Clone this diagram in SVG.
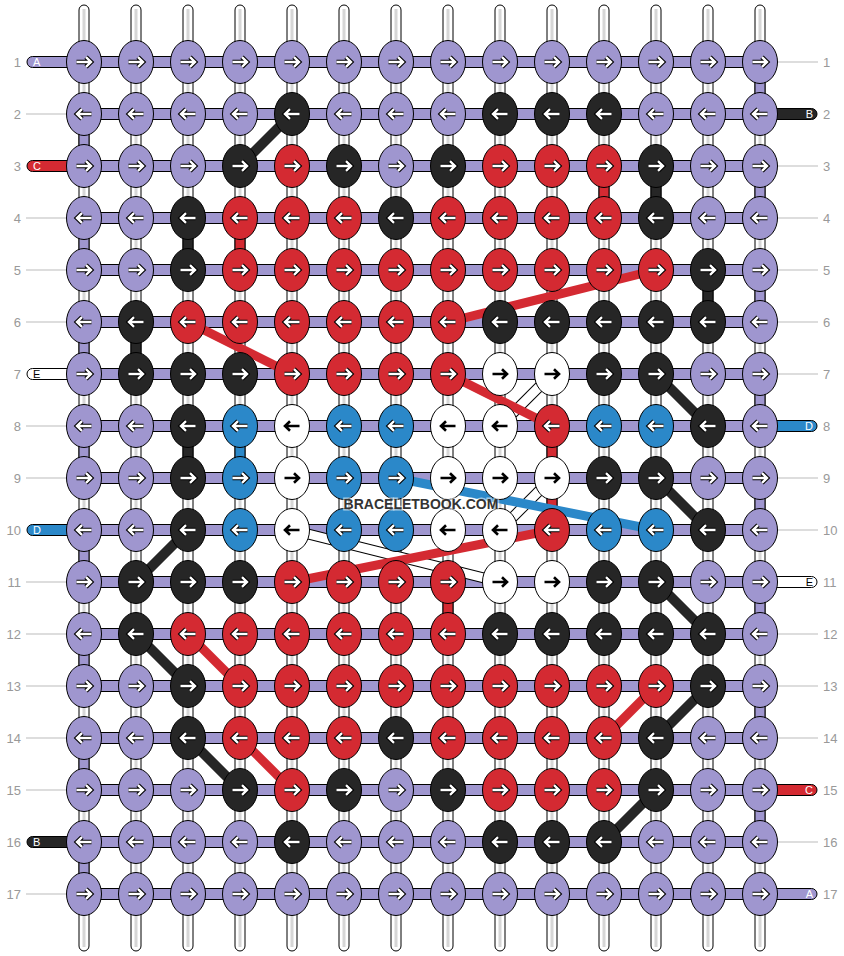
<svg xmlns="http://www.w3.org/2000/svg" xmlns:xlink="http://www.w3.org/1999/xlink" width="844" height="956" viewBox="0 0 844 956">
<style>
.tube{fill:#fff;stroke:#000;stroke-width:1}
.tc{fill:#d6d6d6}
.bar{fill:#9f96cf;stroke:#000;stroke-width:1}
.gL{fill:#9f96cf;stroke:#000;stroke-width:1}
.gK{fill:#262626;stroke:#000;stroke-width:1}
.gR{fill:#d42a32;stroke:#000;stroke-width:1}
.gB{fill:#2b88c9;stroke:#000;stroke-width:1}
.eL{fill:#9f96cf;stroke:#000;stroke-width:1}
.eK{fill:#262626;stroke:#000;stroke-width:1}
.eR{fill:#d42a32;stroke:#000;stroke-width:1}
.eB{fill:#2b88c9;stroke:#000;stroke-width:1}
.eW{fill:#fff;stroke:#000;stroke-width:1}
.ao{fill:none;stroke:#000;stroke-width:4.6}
.ai{fill:none;stroke:#fff;stroke-width:2.4}
.ab{fill:none;stroke:#000;stroke-width:2.6}
.dK{stroke:#262626;stroke-width:10;fill:none}
.dR{stroke:#d42a32;stroke-width:9;fill:none}
.dB{stroke:#2b88c9;stroke-width:9;fill:none}
.dWo{stroke:#000;stroke-width:11;fill:none}
.dWi{stroke:#fff;stroke-width:9;fill:none}
.num{font-family:"Liberation Sans",Arial,sans-serif;font-size:13px;fill:#999}
.lead{stroke:#bbb;stroke-width:1}
.pl{stroke:#000;stroke-width:1}
.lt{font-family:"Liberation Sans",Arial,sans-serif;font-size:11px;fill:#fff}
.ltd{font-family:"Liberation Sans",Arial,sans-serif;font-size:11px;fill:#000}
.wm{font-family:"Liberation Sans",Arial,sans-serif;font-size:14px;font-weight:bold;fill:#333;stroke:#fff;stroke-opacity:0.55;stroke-width:3;paint-order:stroke;text-anchor:middle}
</style>
<defs>
<path id="pr" d="M-7.5 0H6.5M2 -4.8L7 0L2 4.8"/>
<path id="pl" d="M7.5 0H-6.5M-2 -4.8L-7 0L-2 4.8"/>
<g id="aR"><use href="#pr" class="ao"/><use href="#pr" class="ai"/></g>
<g id="aL"><use href="#pl" class="ao"/><use href="#pl" class="ai"/></g>
<g id="Lr"><ellipse rx="17.5" ry="21.5" class="eL"/><use href="#aR"/></g>
<g id="Ll"><ellipse rx="17.5" ry="21.5" class="eL"/><use href="#aL"/></g>
<g id="Kr"><ellipse rx="17.5" ry="21.5" class="eK"/><use href="#aR"/></g>
<g id="Kl"><ellipse rx="17.5" ry="21.5" class="eK"/><use href="#aL"/></g>
<g id="Rr"><ellipse rx="17.5" ry="21.5" class="eR"/><use href="#aR"/></g>
<g id="Rl"><ellipse rx="17.5" ry="21.5" class="eR"/><use href="#aL"/></g>
<g id="Br"><ellipse rx="17.5" ry="21.5" class="eB"/><use href="#aR"/></g>
<g id="Bl"><ellipse rx="17.5" ry="21.5" class="eB"/><use href="#aL"/></g>
<g id="Wr"><ellipse rx="17.5" ry="21.5" class="eW"/><use href="#pr" class="ab"/></g>
<g id="Wl"><ellipse rx="17.5" ry="21.5" class="eW"/><use href="#pl" class="ab"/></g>
</defs>
<rect width="844" height="956" fill="#fff"/>

<g id="tubes">
<rect class="tube" x="79" y="5" width="10" height="946" rx="5"/><rect class="tc" x="82.5" y="9" width="3" height="938"/>
<rect class="tube" x="131" y="5" width="10" height="946" rx="5"/><rect class="tc" x="134.5" y="9" width="3" height="938"/>
<rect class="tube" x="183" y="5" width="10" height="946" rx="5"/><rect class="tc" x="186.5" y="9" width="3" height="938"/>
<rect class="tube" x="235" y="5" width="10" height="946" rx="5"/><rect class="tc" x="238.5" y="9" width="3" height="938"/>
<rect class="tube" x="287" y="5" width="10" height="946" rx="5"/><rect class="tc" x="290.5" y="9" width="3" height="938"/>
<rect class="tube" x="339" y="5" width="10" height="946" rx="5"/><rect class="tc" x="342.5" y="9" width="3" height="938"/>
<rect class="tube" x="391" y="5" width="10" height="946" rx="5"/><rect class="tc" x="394.5" y="9" width="3" height="938"/>
<rect class="tube" x="443" y="5" width="10" height="946" rx="5"/><rect class="tc" x="446.5" y="9" width="3" height="938"/>
<rect class="tube" x="495" y="5" width="10" height="946" rx="5"/><rect class="tc" x="498.5" y="9" width="3" height="938"/>
<rect class="tube" x="547" y="5" width="10" height="946" rx="5"/><rect class="tc" x="550.5" y="9" width="3" height="938"/>
<rect class="tube" x="599" y="5" width="10" height="946" rx="5"/><rect class="tc" x="602.5" y="9" width="3" height="938"/>
<rect class="tube" x="651" y="5" width="10" height="946" rx="5"/><rect class="tc" x="654.5" y="9" width="3" height="938"/>
<rect class="tube" x="703" y="5" width="10" height="946" rx="5"/><rect class="tc" x="706.5" y="9" width="3" height="938"/>
<rect class="tube" x="755" y="5" width="10" height="946" rx="5"/><rect class="tc" x="758.5" y="9" width="3" height="938"/>
</g>

<g id="labels">
<text class="num" x="21" y="67" text-anchor="end">1</text>
<text class="num" x="21" y="119" text-anchor="end">2</text>
<text class="num" x="21" y="171" text-anchor="end">3</text>
<text class="num" x="21" y="223" text-anchor="end">4</text>
<text class="num" x="21" y="275" text-anchor="end">5</text>
<text class="num" x="21" y="327" text-anchor="end">6</text>
<text class="num" x="21" y="379" text-anchor="end">7</text>
<text class="num" x="21" y="431" text-anchor="end">8</text>
<text class="num" x="21" y="483" text-anchor="end">9</text>
<text class="num" x="21" y="535" text-anchor="end">10</text>
<text class="num" x="21" y="587" text-anchor="end">11</text>
<text class="num" x="21" y="639" text-anchor="end">12</text>
<text class="num" x="21" y="691" text-anchor="end">13</text>
<text class="num" x="21" y="743" text-anchor="end">14</text>
<text class="num" x="21" y="795" text-anchor="end">15</text>
<text class="num" x="21" y="847" text-anchor="end">16</text>
<text class="num" x="21" y="899" text-anchor="end">17</text>
<text class="num" x="823" y="67">1</text>
<text class="num" x="823" y="119">2</text>
<text class="num" x="823" y="171">3</text>
<text class="num" x="823" y="223">4</text>
<text class="num" x="823" y="275">5</text>
<text class="num" x="823" y="327">6</text>
<text class="num" x="823" y="379">7</text>
<text class="num" x="823" y="431">8</text>
<text class="num" x="823" y="483">9</text>
<text class="num" x="823" y="535">10</text>
<text class="num" x="823" y="587">11</text>
<text class="num" x="823" y="639">12</text>
<text class="num" x="823" y="691">13</text>
<text class="num" x="823" y="743">14</text>
<text class="num" x="823" y="795">15</text>
<text class="num" x="823" y="847">16</text>
<text class="num" x="823" y="899">17</text>
<line class="lead" x1="26" y1="114" x2="67" y2="114"/>
<line class="lead" x1="26" y1="218" x2="67" y2="218"/>
<line class="lead" x1="26" y1="270" x2="67" y2="270"/>
<line class="lead" x1="26" y1="322" x2="67" y2="322"/>
<line class="lead" x1="26" y1="426" x2="67" y2="426"/>
<line class="lead" x1="26" y1="478" x2="67" y2="478"/>
<line class="lead" x1="26" y1="582" x2="67" y2="582"/>
<line class="lead" x1="26" y1="634" x2="67" y2="634"/>
<line class="lead" x1="26" y1="686" x2="67" y2="686"/>
<line class="lead" x1="26" y1="738" x2="67" y2="738"/>
<line class="lead" x1="26" y1="790" x2="67" y2="790"/>
<line class="lead" x1="26" y1="894" x2="67" y2="894"/>
<line class="lead" x1="777" y1="62" x2="818" y2="62"/>
<line class="lead" x1="777" y1="166" x2="818" y2="166"/>
<line class="lead" x1="777" y1="218" x2="818" y2="218"/>
<line class="lead" x1="777" y1="270" x2="818" y2="270"/>
<line class="lead" x1="777" y1="322" x2="818" y2="322"/>
<line class="lead" x1="777" y1="374" x2="818" y2="374"/>
<line class="lead" x1="777" y1="478" x2="818" y2="478"/>
<line class="lead" x1="777" y1="530" x2="818" y2="530"/>
<line class="lead" x1="777" y1="634" x2="818" y2="634"/>
<line class="lead" x1="777" y1="686" x2="818" y2="686"/>
<line class="lead" x1="777" y1="738" x2="818" y2="738"/>
<line class="lead" x1="777" y1="842" x2="818" y2="842"/>
</g>

<g id="bars">
<rect class="bar" x="84" y="56.5" width="676" height="11"/>
<rect class="bar" x="84" y="108.5" width="676" height="11"/>
<rect class="bar" x="84" y="160.5" width="676" height="11"/>
<rect class="bar" x="84" y="212.5" width="676" height="11"/>
<rect class="bar" x="84" y="264.5" width="676" height="11"/>
<rect class="bar" x="84" y="316.5" width="676" height="11"/>
<rect class="bar" x="84" y="368.5" width="676" height="11"/>
<rect class="bar" x="84" y="420.5" width="676" height="11"/>
<rect class="bar" x="84" y="472.5" width="676" height="11"/>
<rect class="bar" x="84" y="524.5" width="676" height="11"/>
<rect class="bar" x="84" y="576.5" width="676" height="11"/>
<rect class="bar" x="84" y="628.5" width="676" height="11"/>
<rect class="bar" x="84" y="680.5" width="676" height="11"/>
<rect class="bar" x="84" y="732.5" width="676" height="11"/>
<rect class="bar" x="84" y="784.5" width="676" height="11"/>
<rect class="bar" x="84" y="836.5" width="676" height="11"/>
<rect class="bar" x="84" y="888.5" width="676" height="11"/>
</g>

<g id="ends">
<path class="pl" fill="#9f96cf" d="M72 56.5H32.5A5.5 5.5 0 0 0 32.5 67.5H72Z"/><text class="lt" x="33" y="66">A</text>
<path class="pl" fill="#d42a32" d="M72 160.5H32.5A5.5 5.5 0 0 0 32.5 171.5H72Z"/><text class="lt" x="33" y="170">C</text>
<path class="pl" fill="#fff" d="M72 368.5H32.5A5.5 5.5 0 0 0 32.5 379.5H72Z"/><text class="ltd" x="33" y="378">E</text>
<path class="pl" fill="#2b88c9" d="M72 524.5H32.5A5.5 5.5 0 0 0 32.5 535.5H72Z"/><text class="lt" x="33" y="534">D</text>
<path class="pl" fill="#262626" d="M72 836.5H32.5A5.5 5.5 0 0 0 32.5 847.5H72Z"/><text class="lt" x="33" y="846">B</text>
<path class="pl" fill="#262626" d="M772 108.5H811.5A5.5 5.5 0 0 1 811.5 119.5H772Z"/><text class="lt" x="813" y="118" text-anchor="end">B</text>
<path class="pl" fill="#2b88c9" d="M772 420.5H811.5A5.5 5.5 0 0 1 811.5 431.5H772Z"/><text class="lt" x="813" y="430" text-anchor="end">D</text>
<path class="pl" fill="#fff" d="M772 576.5H811.5A5.5 5.5 0 0 1 811.5 587.5H772Z"/><text class="ltd" x="813" y="586" text-anchor="end">E</text>
<path class="pl" fill="#d42a32" d="M772 784.5H811.5A5.5 5.5 0 0 1 811.5 795.5H772Z"/><text class="lt" x="813" y="794" text-anchor="end">C</text>
<path class="pl" fill="#9f96cf" d="M772 888.5H811.5A5.5 5.5 0 0 1 811.5 899.5H772Z"/><text class="lt" x="813" y="898" text-anchor="end">A</text>
</g>

<g id="connectors">
<rect class="gL" x="755" y="82" width="10" height="12"/>
<rect class="gL" x="79" y="134" width="10" height="12"/>
<rect class="gR" x="599" y="186" width="10" height="12"/>
<rect class="gK" x="651" y="186" width="10" height="12"/>
<rect class="gL" x="755" y="186" width="10" height="12"/>
<rect class="gL" x="79" y="238" width="10" height="12"/>
<rect class="gK" x="183" y="238" width="10" height="12"/>
<rect class="gR" x="235" y="238" width="10" height="12"/>
<rect class="gK" x="703" y="290" width="10" height="12"/>
<rect class="gL" x="755" y="290" width="10" height="12"/>
<rect class="gL" x="79" y="342" width="10" height="12"/>
<rect class="gK" x="131" y="342" width="10" height="12"/>
<rect class="gL" x="755" y="394" width="10" height="12"/>
<rect class="gL" x="79" y="446" width="10" height="12"/>
<rect class="gK" x="183" y="446" width="10" height="12"/>
<rect class="gB" x="235" y="446" width="10" height="12"/>
<rect class="gR" x="547" y="446" width="10" height="12"/>
<rect class="gL" x="755" y="498" width="10" height="12"/>
<rect class="gR" x="547" y="498" width="10" height="12"/>
<rect class="gL" x="79" y="550" width="10" height="12"/>
<rect class="gL" x="755" y="602" width="10" height="12"/>
<rect class="gR" x="443" y="602" width="10" height="12"/>
<rect class="gL" x="79" y="654" width="10" height="12"/>
<rect class="gL" x="755" y="706" width="10" height="12"/>
<rect class="gL" x="79" y="758" width="10" height="12"/>
<rect class="gL" x="755" y="810" width="10" height="12"/>
<rect class="gL" x="79" y="862" width="10" height="12"/>
<line class="dWo" x1="552" y1="374" x2="500" y2="426"/><line class="dWi" x1="552" y1="374" x2="500" y2="426"/>
<line class="dWo" x1="552" y1="478" x2="500" y2="530"/><line class="dWi" x1="552" y1="478" x2="500" y2="530"/>
<line class="dWo" x1="292" y1="530" x2="500" y2="582"/><line class="dWi" x1="292" y1="530" x2="500" y2="582"/>
<line class="dK" x1="292" y1="114" x2="240" y2="166"/>
<line class="dK" x1="656" y1="374" x2="708" y2="426"/>
<line class="dK" x1="656" y1="478" x2="708" y2="530"/>
<line class="dK" x1="188" y1="530" x2="136" y2="582"/>
<line class="dK" x1="656" y1="582" x2="708" y2="634"/>
<line class="dK" x1="136" y1="634" x2="188" y2="686"/>
<line class="dK" x1="708" y1="686" x2="656" y2="738"/>
<line class="dK" x1="188" y1="738" x2="240" y2="790"/>
<line class="dK" x1="656" y1="790" x2="604" y2="842"/>
<line class="dR" x1="656" y1="270" x2="448" y2="322"/>
<line class="dR" x1="188" y1="322" x2="292" y2="374"/>
<line class="dR" x1="448" y1="374" x2="552" y2="426"/>
<line class="dR" x1="552" y1="530" x2="292" y2="582"/>
<line class="dR" x1="188" y1="634" x2="240" y2="686"/>
<line class="dR" x1="656" y1="686" x2="604" y2="738"/>
<line class="dR" x1="240" y1="738" x2="292" y2="790"/>
<line class="dB" x1="396" y1="478" x2="656" y2="530"/>
</g>

<g id="knots">
<g id="k1_1"><use href="#Lr" x="84" y="62"/></g><g id="k1_2"><use href="#Lr" x="136" y="62"/></g><g id="k1_3"><use href="#Lr" x="188" y="62"/></g><g id="k1_4"><use href="#Lr" x="240" y="62"/></g><g id="k1_5"><use href="#Lr" x="292" y="62"/></g><g id="k1_6"><use href="#Lr" x="344" y="62"/></g><g id="k1_7"><use href="#Lr" x="396" y="62"/></g><g id="k1_8"><use href="#Lr" x="448" y="62"/></g><g id="k1_9"><use href="#Lr" x="500" y="62"/></g><g id="k1_10"><use href="#Lr" x="552" y="62"/></g><g id="k1_11"><use href="#Lr" x="604" y="62"/></g><g id="k1_12"><use href="#Lr" x="656" y="62"/></g><g id="k1_13"><use href="#Lr" x="708" y="62"/></g><g id="k1_14"><use href="#Lr" x="760" y="62"/></g>
<g id="k2_1"><use href="#Ll" x="84" y="114"/></g><g id="k2_2"><use href="#Ll" x="136" y="114"/></g><g id="k2_3"><use href="#Ll" x="188" y="114"/></g><g id="k2_4"><use href="#Ll" x="240" y="114"/></g><g id="k2_5"><use href="#Kl" x="292" y="114"/></g><g id="k2_6"><use href="#Ll" x="344" y="114"/></g><g id="k2_7"><use href="#Ll" x="396" y="114"/></g><g id="k2_8"><use href="#Ll" x="448" y="114"/></g><g id="k2_9"><use href="#Kl" x="500" y="114"/></g><g id="k2_10"><use href="#Kl" x="552" y="114"/></g><g id="k2_11"><use href="#Kl" x="604" y="114"/></g><g id="k2_12"><use href="#Ll" x="656" y="114"/></g><g id="k2_13"><use href="#Ll" x="708" y="114"/></g><g id="k2_14"><use href="#Ll" x="760" y="114"/></g>
<g id="k3_1"><use href="#Lr" x="84" y="166"/></g><g id="k3_2"><use href="#Lr" x="136" y="166"/></g><g id="k3_3"><use href="#Lr" x="188" y="166"/></g><g id="k3_4"><use href="#Kr" x="240" y="166"/></g><g id="k3_5"><use href="#Rr" x="292" y="166"/></g><g id="k3_6"><use href="#Kr" x="344" y="166"/></g><g id="k3_7"><use href="#Lr" x="396" y="166"/></g><g id="k3_8"><use href="#Kr" x="448" y="166"/></g><g id="k3_9"><use href="#Rr" x="500" y="166"/></g><g id="k3_10"><use href="#Rr" x="552" y="166"/></g><g id="k3_11"><use href="#Rr" x="604" y="166"/></g><g id="k3_12"><use href="#Kr" x="656" y="166"/></g><g id="k3_13"><use href="#Lr" x="708" y="166"/></g><g id="k3_14"><use href="#Lr" x="760" y="166"/></g>
<g id="k4_1"><use href="#Ll" x="84" y="218"/></g><g id="k4_2"><use href="#Ll" x="136" y="218"/></g><g id="k4_3"><use href="#Kl" x="188" y="218"/></g><g id="k4_4"><use href="#Rl" x="240" y="218"/></g><g id="k4_5"><use href="#Rl" x="292" y="218"/></g><g id="k4_6"><use href="#Rl" x="344" y="218"/></g><g id="k4_7"><use href="#Kl" x="396" y="218"/></g><g id="k4_8"><use href="#Rl" x="448" y="218"/></g><g id="k4_9"><use href="#Rl" x="500" y="218"/></g><g id="k4_10"><use href="#Rl" x="552" y="218"/></g><g id="k4_11"><use href="#Rl" x="604" y="218"/></g><g id="k4_12"><use href="#Kl" x="656" y="218"/></g><g id="k4_13"><use href="#Ll" x="708" y="218"/></g><g id="k4_14"><use href="#Ll" x="760" y="218"/></g>
<g id="k5_1"><use href="#Lr" x="84" y="270"/></g><g id="k5_2"><use href="#Lr" x="136" y="270"/></g><g id="k5_3"><use href="#Kr" x="188" y="270"/></g><g id="k5_4"><use href="#Rr" x="240" y="270"/></g><g id="k5_5"><use href="#Rr" x="292" y="270"/></g><g id="k5_6"><use href="#Rr" x="344" y="270"/></g><g id="k5_7"><use href="#Rr" x="396" y="270"/></g><g id="k5_8"><use href="#Rr" x="448" y="270"/></g><g id="k5_9"><use href="#Rr" x="500" y="270"/></g><g id="k5_10"><use href="#Rr" x="552" y="270"/></g><g id="k5_11"><use href="#Rr" x="604" y="270"/></g><g id="k5_12"><use href="#Rr" x="656" y="270"/></g><g id="k5_13"><use href="#Kr" x="708" y="270"/></g><g id="k5_14"><use href="#Lr" x="760" y="270"/></g>
<g id="k6_1"><use href="#Ll" x="84" y="322"/></g><g id="k6_2"><use href="#Kl" x="136" y="322"/></g><g id="k6_3"><use href="#Rl" x="188" y="322"/></g><g id="k6_4"><use href="#Rl" x="240" y="322"/></g><g id="k6_5"><use href="#Rl" x="292" y="322"/></g><g id="k6_6"><use href="#Rl" x="344" y="322"/></g><g id="k6_7"><use href="#Rl" x="396" y="322"/></g><g id="k6_8"><use href="#Rl" x="448" y="322"/></g><g id="k6_9"><use href="#Kl" x="500" y="322"/></g><g id="k6_10"><use href="#Kl" x="552" y="322"/></g><g id="k6_11"><use href="#Kl" x="604" y="322"/></g><g id="k6_12"><use href="#Kl" x="656" y="322"/></g><g id="k6_13"><use href="#Kl" x="708" y="322"/></g><g id="k6_14"><use href="#Ll" x="760" y="322"/></g>
<g id="k7_1"><use href="#Lr" x="84" y="374"/></g><g id="k7_2"><use href="#Kr" x="136" y="374"/></g><g id="k7_3"><use href="#Kr" x="188" y="374"/></g><g id="k7_4"><use href="#Kr" x="240" y="374"/></g><g id="k7_5"><use href="#Rr" x="292" y="374"/></g><g id="k7_6"><use href="#Rr" x="344" y="374"/></g><g id="k7_7"><use href="#Rr" x="396" y="374"/></g><g id="k7_8"><use href="#Rr" x="448" y="374"/></g><g id="k7_9"><use href="#Wr" x="500" y="374"/></g><g id="k7_10"><use href="#Wr" x="552" y="374"/></g><g id="k7_11"><use href="#Kr" x="604" y="374"/></g><g id="k7_12"><use href="#Kr" x="656" y="374"/></g><g id="k7_13"><use href="#Lr" x="708" y="374"/></g><g id="k7_14"><use href="#Lr" x="760" y="374"/></g>
<g id="k8_1"><use href="#Ll" x="84" y="426"/></g><g id="k8_2"><use href="#Ll" x="136" y="426"/></g><g id="k8_3"><use href="#Kl" x="188" y="426"/></g><g id="k8_4"><use href="#Bl" x="240" y="426"/></g><g id="k8_5"><use href="#Wl" x="292" y="426"/></g><g id="k8_6"><use href="#Bl" x="344" y="426"/></g><g id="k8_7"><use href="#Bl" x="396" y="426"/></g><g id="k8_8"><use href="#Wl" x="448" y="426"/></g><g id="k8_9"><use href="#Wl" x="500" y="426"/></g><g id="k8_10"><use href="#Rl" x="552" y="426"/></g><g id="k8_11"><use href="#Bl" x="604" y="426"/></g><g id="k8_12"><use href="#Bl" x="656" y="426"/></g><g id="k8_13"><use href="#Kl" x="708" y="426"/></g><g id="k8_14"><use href="#Ll" x="760" y="426"/></g>
<g id="k9_1"><use href="#Lr" x="84" y="478"/></g><g id="k9_2"><use href="#Lr" x="136" y="478"/></g><g id="k9_3"><use href="#Kr" x="188" y="478"/></g><g id="k9_4"><use href="#Br" x="240" y="478"/></g><g id="k9_5"><use href="#Wr" x="292" y="478"/></g><g id="k9_6"><use href="#Br" x="344" y="478"/></g><g id="k9_7"><use href="#Br" x="396" y="478"/></g><g id="k9_8"><use href="#Wr" x="448" y="478"/></g><g id="k9_9"><use href="#Wr" x="500" y="478"/></g><g id="k9_10"><use href="#Wr" x="552" y="478"/></g><g id="k9_11"><use href="#Kr" x="604" y="478"/></g><g id="k9_12"><use href="#Kr" x="656" y="478"/></g><g id="k9_13"><use href="#Lr" x="708" y="478"/></g><g id="k9_14"><use href="#Lr" x="760" y="478"/></g>
<g id="k10_1"><use href="#Ll" x="84" y="530"/></g><g id="k10_2"><use href="#Ll" x="136" y="530"/></g><g id="k10_3"><use href="#Kl" x="188" y="530"/></g><g id="k10_4"><use href="#Bl" x="240" y="530"/></g><g id="k10_5"><use href="#Wl" x="292" y="530"/></g><g id="k10_6"><use href="#Bl" x="344" y="530"/></g><g id="k10_7"><use href="#Bl" x="396" y="530"/></g><g id="k10_8"><use href="#Wl" x="448" y="530"/></g><g id="k10_9"><use href="#Wl" x="500" y="530"/></g><g id="k10_10"><use href="#Rl" x="552" y="530"/></g><g id="k10_11"><use href="#Bl" x="604" y="530"/></g><g id="k10_12"><use href="#Bl" x="656" y="530"/></g><g id="k10_13"><use href="#Kl" x="708" y="530"/></g><g id="k10_14"><use href="#Ll" x="760" y="530"/></g>
<g id="k11_1"><use href="#Lr" x="84" y="582"/></g><g id="k11_2"><use href="#Kr" x="136" y="582"/></g><g id="k11_3"><use href="#Kr" x="188" y="582"/></g><g id="k11_4"><use href="#Kr" x="240" y="582"/></g><g id="k11_5"><use href="#Rr" x="292" y="582"/></g><g id="k11_6"><use href="#Rr" x="344" y="582"/></g><g id="k11_7"><use href="#Rr" x="396" y="582"/></g><g id="k11_8"><use href="#Rr" x="448" y="582"/></g><g id="k11_9"><use href="#Wr" x="500" y="582"/></g><g id="k11_10"><use href="#Wr" x="552" y="582"/></g><g id="k11_11"><use href="#Kr" x="604" y="582"/></g><g id="k11_12"><use href="#Kr" x="656" y="582"/></g><g id="k11_13"><use href="#Lr" x="708" y="582"/></g><g id="k11_14"><use href="#Lr" x="760" y="582"/></g>
<g id="k12_1"><use href="#Ll" x="84" y="634"/></g><g id="k12_2"><use href="#Kl" x="136" y="634"/></g><g id="k12_3"><use href="#Rl" x="188" y="634"/></g><g id="k12_4"><use href="#Rl" x="240" y="634"/></g><g id="k12_5"><use href="#Rl" x="292" y="634"/></g><g id="k12_6"><use href="#Rl" x="344" y="634"/></g><g id="k12_7"><use href="#Rl" x="396" y="634"/></g><g id="k12_8"><use href="#Rl" x="448" y="634"/></g><g id="k12_9"><use href="#Kl" x="500" y="634"/></g><g id="k12_10"><use href="#Kl" x="552" y="634"/></g><g id="k12_11"><use href="#Kl" x="604" y="634"/></g><g id="k12_12"><use href="#Kl" x="656" y="634"/></g><g id="k12_13"><use href="#Kl" x="708" y="634"/></g><g id="k12_14"><use href="#Ll" x="760" y="634"/></g>
<g id="k13_1"><use href="#Lr" x="84" y="686"/></g><g id="k13_2"><use href="#Lr" x="136" y="686"/></g><g id="k13_3"><use href="#Kr" x="188" y="686"/></g><g id="k13_4"><use href="#Rr" x="240" y="686"/></g><g id="k13_5"><use href="#Rr" x="292" y="686"/></g><g id="k13_6"><use href="#Rr" x="344" y="686"/></g><g id="k13_7"><use href="#Rr" x="396" y="686"/></g><g id="k13_8"><use href="#Rr" x="448" y="686"/></g><g id="k13_9"><use href="#Rr" x="500" y="686"/></g><g id="k13_10"><use href="#Rr" x="552" y="686"/></g><g id="k13_11"><use href="#Rr" x="604" y="686"/></g><g id="k13_12"><use href="#Rr" x="656" y="686"/></g><g id="k13_13"><use href="#Kr" x="708" y="686"/></g><g id="k13_14"><use href="#Lr" x="760" y="686"/></g>
<g id="k14_1"><use href="#Ll" x="84" y="738"/></g><g id="k14_2"><use href="#Ll" x="136" y="738"/></g><g id="k14_3"><use href="#Kl" x="188" y="738"/></g><g id="k14_4"><use href="#Rl" x="240" y="738"/></g><g id="k14_5"><use href="#Rl" x="292" y="738"/></g><g id="k14_6"><use href="#Rl" x="344" y="738"/></g><g id="k14_7"><use href="#Kl" x="396" y="738"/></g><g id="k14_8"><use href="#Rl" x="448" y="738"/></g><g id="k14_9"><use href="#Rl" x="500" y="738"/></g><g id="k14_10"><use href="#Rl" x="552" y="738"/></g><g id="k14_11"><use href="#Rl" x="604" y="738"/></g><g id="k14_12"><use href="#Kl" x="656" y="738"/></g><g id="k14_13"><use href="#Ll" x="708" y="738"/></g><g id="k14_14"><use href="#Ll" x="760" y="738"/></g>
<g id="k15_1"><use href="#Lr" x="84" y="790"/></g><g id="k15_2"><use href="#Lr" x="136" y="790"/></g><g id="k15_3"><use href="#Lr" x="188" y="790"/></g><g id="k15_4"><use href="#Kr" x="240" y="790"/></g><g id="k15_5"><use href="#Rr" x="292" y="790"/></g><g id="k15_6"><use href="#Kr" x="344" y="790"/></g><g id="k15_7"><use href="#Lr" x="396" y="790"/></g><g id="k15_8"><use href="#Kr" x="448" y="790"/></g><g id="k15_9"><use href="#Rr" x="500" y="790"/></g><g id="k15_10"><use href="#Rr" x="552" y="790"/></g><g id="k15_11"><use href="#Rr" x="604" y="790"/></g><g id="k15_12"><use href="#Kr" x="656" y="790"/></g><g id="k15_13"><use href="#Lr" x="708" y="790"/></g><g id="k15_14"><use href="#Lr" x="760" y="790"/></g>
<g id="k16_1"><use href="#Ll" x="84" y="842"/></g><g id="k16_2"><use href="#Ll" x="136" y="842"/></g><g id="k16_3"><use href="#Ll" x="188" y="842"/></g><g id="k16_4"><use href="#Ll" x="240" y="842"/></g><g id="k16_5"><use href="#Kl" x="292" y="842"/></g><g id="k16_6"><use href="#Ll" x="344" y="842"/></g><g id="k16_7"><use href="#Ll" x="396" y="842"/></g><g id="k16_8"><use href="#Ll" x="448" y="842"/></g><g id="k16_9"><use href="#Kl" x="500" y="842"/></g><g id="k16_10"><use href="#Kl" x="552" y="842"/></g><g id="k16_11"><use href="#Kl" x="604" y="842"/></g><g id="k16_12"><use href="#Ll" x="656" y="842"/></g><g id="k16_13"><use href="#Ll" x="708" y="842"/></g><g id="k16_14"><use href="#Ll" x="760" y="842"/></g>
<g id="k17_1"><use href="#Lr" x="84" y="894"/></g><g id="k17_2"><use href="#Lr" x="136" y="894"/></g><g id="k17_3"><use href="#Lr" x="188" y="894"/></g><g id="k17_4"><use href="#Lr" x="240" y="894"/></g><g id="k17_5"><use href="#Lr" x="292" y="894"/></g><g id="k17_6"><use href="#Lr" x="344" y="894"/></g><g id="k17_7"><use href="#Lr" x="396" y="894"/></g><g id="k17_8"><use href="#Lr" x="448" y="894"/></g><g id="k17_9"><use href="#Lr" x="500" y="894"/></g><g id="k17_10"><use href="#Lr" x="552" y="894"/></g><g id="k17_11"><use href="#Lr" x="604" y="894"/></g><g id="k17_12"><use href="#Lr" x="656" y="894"/></g><g id="k17_13"><use href="#Lr" x="708" y="894"/></g><g id="k17_14"><use href="#Lr" x="760" y="894"/></g>
</g>

<text class="wm" x="421" y="509">BRACELETBOOK.COM</text>
</svg>
